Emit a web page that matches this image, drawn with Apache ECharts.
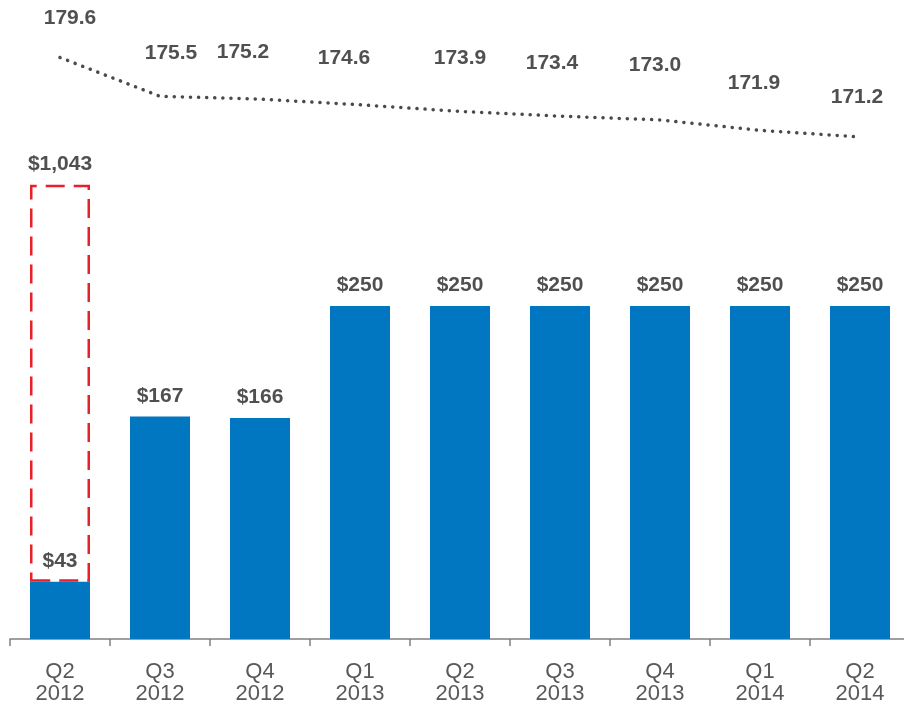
<!DOCTYPE html>
<html>
<head>
<meta charset="utf-8">
<script src="https://cdn.jsdelivr.net/npm/echarts@6/dist/echarts.min.js"></script>
<style>
  html, body { margin: 0; padding: 0; background: #ffffff; }
  #chart { width: 904px; height: 708px; }
</style>
</head>
<body>
<div id="chart"></div>
<script>
// ---- data ----
const quarters = ['Q2', 'Q3', 'Q4', 'Q1', 'Q2', 'Q3', 'Q4', 'Q1', 'Q2'];
const years = ['2012', '2012', '2012', '2013', '2013', '2013', '2013', '2014', '2014'];
const regularDividend = [43, 167, 166, 250, 250, 250, 250, 250, 250];
const specialDividend = [1000, null, null, null, null, null, null, null, null];
const sharesOutstanding = [179.6, 175.5, 175.2, 174.6, 173.9, 173.4, 173.0, 171.9, 171.2];

// ---- label nudges (style only) ----
const lineLabelDx = [10, 11, -17, -16, 0, -8, -5, -6, -3];
const lineLabelLift = [39, 43, 46, 46, 53, 52, 54, 47, 39];

const categories = quarters.map((q, i) => q + '\n' + years[i]);
const FONT = '"Liberation Sans", Arial, sans-serif';
const TEXT = '#505050';

const lineData = sharesOutstanding.map((v, i) => ({
  value: v,
  label: { offset: [lineLabelDx[i], -(lineLabelLift[i] - 10.5)] }
}));

const chart = echarts.init(document.getElementById('chart'), null, { renderer: 'canvas' });
chart.setOption({
  animation: false,
  backgroundColor: '#ffffff',
  grid: { left: 10, width: 900, top: 10, bottom: 69, containLabel: false, outerBoundsMode: 'none' },
  xAxis: {
    type: 'category',
    data: categories,
    axisLine: { show: true, lineStyle: { color: '#808080', width: 1.5 } },
    axisTick: { show: true, alignWithLabel: false, length: 7, lineStyle: { color: '#808080', width: 1.5 } },
    axisLabel: {
      color: '#595959', fontFamily: FONT, fontSize: 22, lineHeight: 22,
      margin: 22, interval: 0
    }
  },
  yAxis: [
    {
      type: 'value', min: 0, max: 1174.2, show: false,
      splitLine: { show: false },
      breaks: [{ start: 300, end: 1002, gap: 0 }],
      breakArea: { show: false }
    },
    {
      type: 'value', min: 118.13, max: 184.62, show: false,
      splitLine: { show: false }
    }
  ],
  series: [
    {
      name: 'Regular',
      type: 'bar',
      stack: 'div',
      data: regularDividend,
      barWidth: '60%',
      itemStyle: { color: '#0077c0' },
      z: 3,
      label: {
        show: true, position: 'top', distance: 10,
        color: TEXT, fontFamily: FONT, fontWeight: 'bold', fontSize: 21,
        formatter: p => '$' + p.value.toLocaleString('en-US')
      }
    },
    {
      name: 'Special',
      type: 'bar',
      stack: 'div',
      data: specialDividend,
      barWidth: '60%',
      itemStyle: {
        color: 'rgba(0,0,0,0)',
        borderColor: '#e8202a', borderWidth: 2.5, borderType: [19, 9]
      },
      z: 2,
      label: {
        show: true, position: 'top', distance: 10,
        color: TEXT, fontFamily: FONT, fontWeight: 'bold', fontSize: 21,
        formatter: p => '$' + (p.value + regularDividend[p.dataIndex]).toLocaleString('en-US')
      }
    },
    {
      name: 'Shares',
      type: 'line',
      yAxisIndex: 1,
      data: lineData,
      symbol: 'circle',
      symbolSize: 1,
      showSymbol: true,
      itemStyle: { color: 'rgba(0,0,0,0)' },
      lineStyle: { color: '#4a4a4a', width: 3.5, type: [0.1, 8], cap: 'round' },
      z: 4,
      label: {
        show: true, position: 'top', distance: 0,
        color: TEXT, fontFamily: FONT, fontWeight: 'bold', fontSize: 21,
        formatter: p => p.value.toFixed(1)
      }
    }
  ]
});
</script>
</body>
</html>
